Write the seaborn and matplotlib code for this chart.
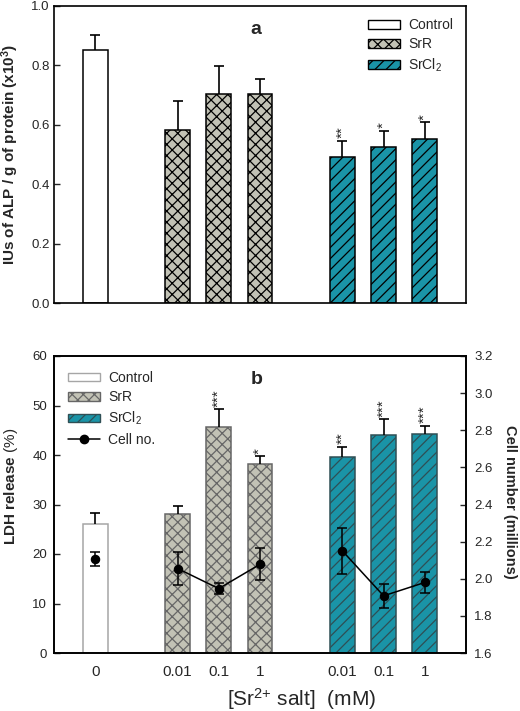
import numpy as np
import pandas as pd
import matplotlib
matplotlib.use('Agg')
import matplotlib.pyplot as plt
import seaborn as sns
from matplotlib.patches import Patch
from matplotlib.lines import Line2D

# data
groups = ['Control', 'SrR', 'SrR', 'SrR', 'SrCl2', 'SrCl2', 'SrCl2']
conc = ['0', '0.01', '0.1', '1', '0.01', '0.1', '1']

alp = [0.852, 0.582, 0.705, 0.705, 0.490, 0.526, 0.551]
alp_err = [0.051, 0.097, 0.094, 0.049, 0.055, 0.054, 0.057]
alp_sig = ['', '', '', '', '**', '*', '*']

ldh = [26.0, 28.1, 45.6, 38.1, 39.5, 44.0, 44.2]
ldh_err = [2.2, 1.5, 3.6, 1.6, 2.2, 3.2, 1.7]
ldh_sig = ['', '', '***', '*', '**', '***', '***']

cells = [2.107, 2.055, 1.947, 2.078, 2.150, 1.908, 1.980]
cells_err = [0.036, 0.090, 0.030, 0.085, 0.126, 0.063, 0.058]

slots = [g + ' ' + c for g, c in zip(groups, conc)]
order = [slots[0], 'gap1'] + slots[1:4] + ['gap2'] + slots[4:]
tick_labels = ['0', '', '0.01', '0.1', '1', '', '0.01', '0.1', '1']
hue_order = ['Control', 'SrR', 'SrCl2']
fills = {'Control': 'white', 'SrR': '#c2c2b5', 'SrCl2': '#1a94a7'}
hatches = {'Control': '', 'SrR': 'xxx', 'SrCl2': '///'}
xpos = [order.index(s) for s in slots]

sns.set_theme(style='white')
plt.rcParams['font.family'] = ['Liberation Sans', 'DejaVu Sans']
plt.rcParams['mathtext.fontset'] = 'custom'
plt.rcParams['mathtext.rm'] = 'Liberation Sans'
plt.rcParams['mathtext.default'] = 'regular'
plt.rcParams['hatch.linewidth'] = 0.9

fig = plt.figure(figsize=(5.2, 7.11), dpi=100)
ax_a = fig.add_axes([54 / 520, 1 - 303 / 711, 412 / 520, 297 / 711])
ax_b = fig.add_axes([54 / 520, 1 - 653 / 711, 412 / 520, 297 / 711])


def draw_bars(ax, values, errors, stars, edges, hatch_cols):
    df = pd.DataFrame({'slot': slots, 'group': groups, 'value': values})
    sns.barplot(data=df, x='slot', y='value', hue='group', order=order,
                hue_order=hue_order, palette=fills, dodge=False, width=0.6,
                saturation=1, errorbar=None, legend=False, ax=ax)
    for name, cont in zip(hue_order, ax.containers):
        for p in cont.patches:
            p.set_hatch(hatches[name])
            p.set_linewidth(1.1)
            if hasattr(p, 'set_hatchcolor'):
                p.set_edgecolor(edges[name])
                p.set_hatchcolor(hatch_cols[name])
            else:
                p.set_edgecolor(hatch_cols[name])
    eb = ax.errorbar(xpos, values, yerr=[np.zeros(len(values)), errors],
                     fmt='none', ecolor='black', elinewidth=1.2,
                     capsize=3.5, capthick=1.2, zorder=3)
    for cap in eb[1]:
        if np.allclose(cap.get_ydata(), values):
            cap.set_visible(False)
    for x, v, e, s in zip(xpos, values, errors, stars):
        if s:
            ax.annotate(s, (x, v + e), xytext=(0, 2), textcoords='offset points',
                        rotation=90, ha='center', va='bottom', fontsize=11)
    ax.set_xlim(-1, 9)
    ax.set_xlabel('')
    for sp in ax.spines.values():
        sp.set_visible(True)
        sp.set_color('black')
        sp.set_linewidth(1.2)


# panel a
draw_bars(ax_a, alp, alp_err, alp_sig,
          {'Control': 'black', 'SrR': 'black', 'SrCl2': 'black'},
          {'Control': 'black', 'SrR': 'black', 'SrCl2': 'black'})
ax_a.set_ylim(0, 1.0)
ax_a.set_yticks(np.arange(0, 1.01, 0.2))
ax_a.set_yticklabels(['%.1f' % t for t in np.arange(0, 1.01, 0.2)])
ax_a.set_xticks([])
ax_a.tick_params(axis='y', direction='in', length=4, width=1, pad=3,
                 labelsize=9.5, left=True)
ax_a.set_ylabel('IUs of ALP / g of protein (x10$^{3}$)', fontsize=11,
                fontweight='bold')
ax_a.yaxis.set_label_coords(-0.080, 0.5)
ax_a.text(0.49, 0.92, 'a', transform=ax_a.transAxes, fontsize=14,
          fontweight='bold', ha='center', va='center')
leg_a = [Patch(facecolor=fills[n], edgecolor='black', hatch=hatches[n],
               linewidth=1) for n in hue_order]
ax_a.legend(leg_a, ['Control', 'SrR', 'SrCl$_2$'], loc='upper left',
            bbox_to_anchor=(0.762, 0.958), frameon=False, fontsize=10,
            borderpad=0, borderaxespad=0, handlelength=2.3,
            handleheight=0.6, handletextpad=0.6, labelspacing=0.35)

# panel b
draw_bars(ax_b, ldh, ldh_err, ldh_sig,
          {'Control': '#a6a6a6', 'SrR': '#8c8c8c', 'SrCl2': '#8c8c8c'},
          {'Control': '#a6a6a6', 'SrR': '#666666', 'SrCl2': '#2f4f55'})
ax_b.set_ylim(0, 60)
ax_b.set_yticks(range(0, 61, 10))
ax_b.set_xticks(range(len(order)))
ax_b.set_xticklabels(tick_labels)
ax_b.tick_params(axis='y', direction='in', length=4, width=1, pad=5,
                 labelsize=9.5, left=True)
ax_b.tick_params(axis='x', length=0, pad=9, labelsize=11)
ax_b.set_ylabel('LDH release $\\mathrm{(\\%)}$', fontsize=11, fontweight='bold')
ax_b.yaxis.set_label_coords(-0.082, 0.56)
ax_b.set_xlabel('[Sr$^{2{+}}$ salt]  (mM)', fontsize=15)
ax_b.xaxis.set_label_coords(0.600, -0.112)
ax_b.text(0.493, 0.92, 'b', transform=ax_b.transAxes, fontsize=14,
          fontweight='bold', ha='center', va='center')

ax_c = ax_b.twinx()
cdf = pd.DataFrame({'slot': slots, 'group': groups, 'cells': cells})
sns.pointplot(data=cdf, x='slot', y='cells', hue='group', order=order,
              hue_order=hue_order, palette={n: 'black' for n in hue_order},
              markers='o', linestyles='-', dodge=False, errorbar=None,
              markersize=6, linewidth=1.1, legend=False, ax=ax_c)
ax_c.errorbar(xpos, cells, yerr=cells_err, fmt='none', ecolor='black',
              elinewidth=1.1, capsize=3.5, capthick=1.1, zorder=4)
ax_c.set_xlim(-1, 9)
ax_c.set_ylim(1.6, 3.2)
ax_c.set_yticks(np.arange(1.6, 3.21, 0.2))
ax_c.set_yticklabels(['%.1f' % t for t in np.arange(1.6, 3.21, 0.2)])
ax_c.tick_params(axis='y', direction='in', length=4, width=1, pad=6,
                 labelsize=9.5, right=True)
ax_c.set_ylabel('Cell number (millions)', fontsize=10.5, fontweight='bold',
                rotation=270, va='bottom')
ax_c.yaxis.set_label_coords(1.089, 0.51)
ax_c.set_xlabel('')
for sp in ax_c.spines.values():
    sp.set_color('black')
    sp.set_linewidth(1.2)

leg_b = [Patch(facecolor=fills['Control'], edgecolor='#a6a6a6', linewidth=1),
         Patch(facecolor=fills['SrR'], edgecolor='#666666', hatch='xxx', linewidth=1),
         Patch(facecolor=fills['SrCl2'], edgecolor='#2f4f55', hatch='///', linewidth=1),
         Line2D([], [], color='black', marker='o', markersize=6, linewidth=1.1)]
ax_c.legend(leg_b, ['Control', 'SrR', 'SrCl$_2$', 'Cell no.'], loc='upper left',
            bbox_to_anchor=(0.034, 0.95), frameon=False, fontsize=10,
            borderpad=0, borderaxespad=0, handlelength=2.3,
            handleheight=0.6, handletextpad=0.6, labelspacing=0.4)

fig.savefig('out.png', dpi=100)
